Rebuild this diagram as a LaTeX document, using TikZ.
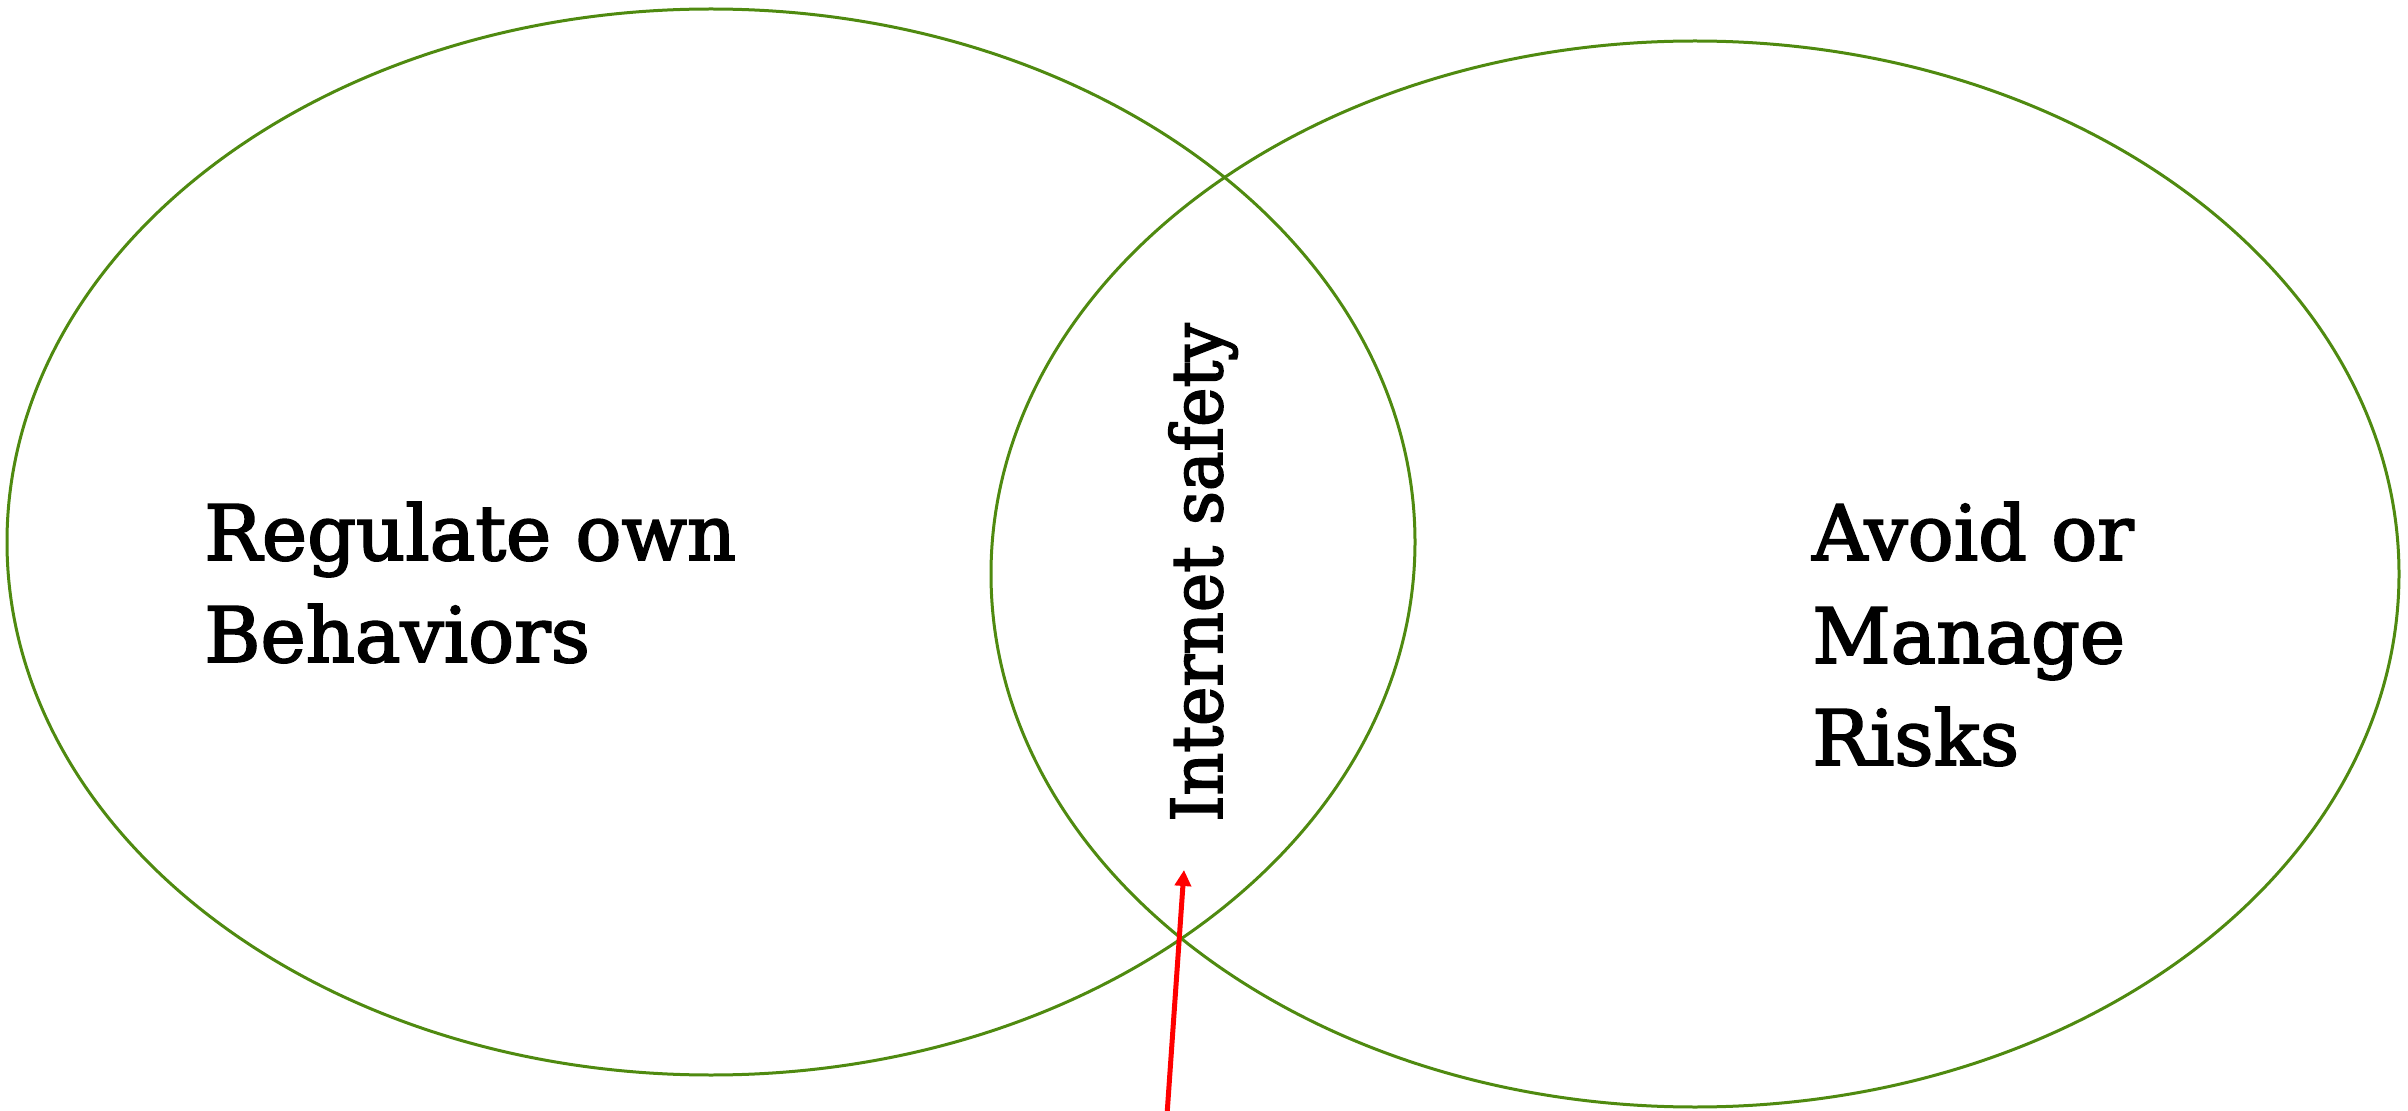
\documentclass[tikz,border=0pt]{standalone}
\usepackage{fontspec}
\usetikzlibrary{arrows.meta}
\newfontfamily\rockfont[FakeStretch=1.0,FakeBold=2.4]{DejaVu Serif}
\newfontfamily\rockfontmid[FakeStretch=0.945,FakeBold=2.4]{DejaVu Serif}
\definecolor{vgreen}{HTML}{4F8A10}
\definecolor{vred}{HTML}{FF0000}
\begin{document}
\begin{tikzpicture}[x=0.02cm,y=-0.02cm,
  ring/.style={draw=vgreen, line width=0.06cm},
  biglabel/.style={anchor=base west, inner sep=0pt, font=\rockfont\fontsize{43.5pt}{56pt}\selectfont},
  midlabel/.style={anchor=base west, inner sep=0pt, rotate=90, font=\rockfontmid\fontsize{40pt}{48pt}\selectfont},
  pointer/.style={draw=vred, line width=0.1cm, -{Triangle[width=0.32cm,length=0.32cm]}}]
\useasboundingbox (0,0) rectangle (2408,1111);
\draw[ring] (711,542) ellipse [x radius=704, y radius=533];
\draw[ring] (1695,574) ellipse [x radius=704, y radius=533];
\node[biglabel] (l1) at (204,560) {Regulate own};
\node[biglabel] (l2) at (204,662) {Behaviors};
\node[biglabel] (r1) at (1812,560) {Avoid or};
\node[biglabel] (r2) at (1812,663) {Manage};
\node[biglabel] (r3) at (1812,765) {Risks};
\node[midlabel] (mid) at (1222,822) {Internet safety};
\coordinate (tail) at (1167,1115);
\coordinate (tip) at (1184,870);
\draw[pointer] (tail) -- (tip);
\end{tikzpicture}
\end{document}
